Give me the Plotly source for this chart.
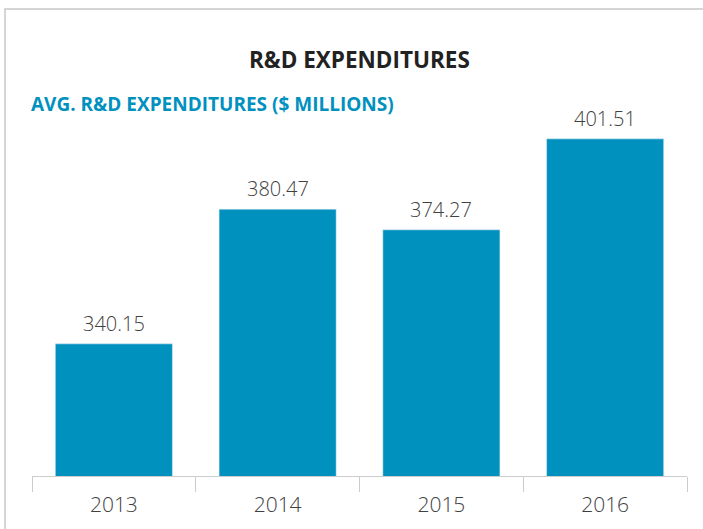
import plotly.graph_objects as go

years = ["2013", "2014", "2015", "2016"]
values = [340.15, 380.47, 374.27, 401.51]
value_labels = ["340.15", "380.47", "374.27", "401.51"]

BAR = "#0091BF"
W, H = 703, 529
L, R, T, B = 32, 16, 110, 53
pw, ph = W - L - R, H - T - B

def px2x(px):
    return (px - L) / pw

def py2y(py):
    return (H - B - py) / ph

fig = go.Figure(go.Bar(x=years, y=values, marker_color=BAR, width=0.715,
                       hoverinfo="skip"))

for i, (v, lab) in enumerate(zip(values, value_labels)):
    fig.add_annotation(x=i, y=v, text=lab, showarrow=False, yanchor="bottom",
                       yshift=5, font=dict(family="Open Sans", size=20, color="#404040", weight=300))

fig.add_annotation(xref="paper", yref="paper", x=px2x(359.5), y=py2y(59.5), text="<b>R&D EXPENDITURES</b>",
                   showarrow=False, xanchor="center", yanchor="middle",
                   font=dict(family="Open Sans", size=22.5, color="#222222"))
fig.add_annotation(xref="paper", yref="paper", x=px2x(29), y=py2y(104),
                   text="<b>AVG. R&D EXPENDITURES ($ MILLIONS)</b>",
                   showarrow=False, xanchor="left", yanchor="middle",
                   font=dict(family="Open Sans", size=19, color=BAR))

fig.add_shape(type="rect", xref="paper", yref="paper",
              x0=px2x(5), x1=px2x(720), y0=py2y(560), y1=py2y(9),
              line=dict(color="#c8c8c8", width=1.5), fillcolor="rgba(0,0,0,0)", layer="below")

fig.update_layout(
    width=W, height=H,
    margin=dict(l=L, r=R, t=T, b=B),
    paper_bgcolor="white", plot_bgcolor="white",
    showlegend=False,
    xaxis=dict(type="category", showline=True, linecolor="#cccccc", linewidth=1,
               ticks="outside", tickson="boundaries", ticklen=15, tickcolor="#cccccc",
               ticklabelstandoff=10,
               tickfont=dict(family="Open Sans", size=21, color="#404040", weight=300),
               range=[-0.5, 3.5], showgrid=False, fixedrange=True),
    yaxis=dict(range=[300.6, 410.15], visible=False, showgrid=False, fixedrange=True),
)

fig.write_html("out.html", config={"displayModeBar": False},
               post_script="document.body.style.margin='0px';")
